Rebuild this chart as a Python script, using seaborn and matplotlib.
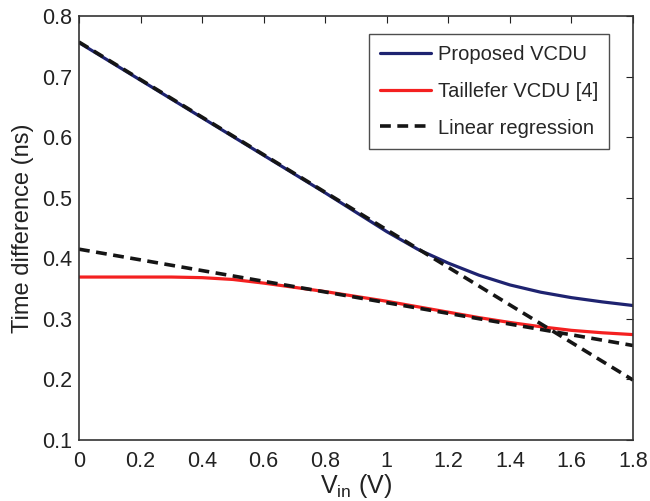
import numpy as np
import pandas as pd
import matplotlib
matplotlib.use("Agg")
import matplotlib.pyplot as plt
import seaborn as sns

vin = [0.0, 0.1, 0.2, 0.3, 0.4, 0.5, 0.6, 0.7, 0.8, 0.9, 1.0, 1.1, 1.2, 1.3, 1.4, 1.5, 1.6, 1.7, 1.8]
proposed = [0.756, 0.725, 0.694, 0.663, 0.632, 0.601, 0.570, 0.539, 0.508, 0.476, 0.444, 0.415,
            0.392, 0.372, 0.356, 0.344, 0.335, 0.328, 0.322]
taillefer = [0.369, 0.369, 0.369, 0.369, 0.368, 0.365, 0.359, 0.352, 0.345, 0.337, 0.329, 0.320,
             0.311, 0.302, 0.294, 0.287, 0.281, 0.277, 0.274]
reg_x = [0.0, 1.8]
reg_proposed = [0.757, 0.199]
reg_taillefer = [0.415, 0.256]

sns.set_theme(style="white")
plt.rcParams['font.family'] = ['Liberation Sans', 'DejaVu Sans']
plt.rcParams['mathtext.fontset'] = 'custom'
plt.rcParams['mathtext.rm'] = 'Liberation Sans'
plt.rcParams['mathtext.it'] = 'Liberation Sans'

fig = plt.figure(figsize=(6.5, 5.01), dpi=100)
ax = fig.add_axes([0.1215, 0.1218, 0.8523, 0.8463])

df_p = pd.DataFrame({"x": vin, "y": proposed})
df_t = pd.DataFrame({"x": vin, "y": taillefer})
df_r1 = pd.DataFrame({"x": reg_x, "y": reg_proposed})
df_r2 = pd.DataFrame({"x": reg_x, "y": reg_taillefer})

sns.lineplot(data=df_p, x="x", y="y", ax=ax, color="#1e2370", lw=2.3, label="Proposed VCDU")
sns.lineplot(data=df_t, x="x", y="y", ax=ax, color="#f42020", lw=2.3, label="Taillefer VCDU [4]")
sns.lineplot(data=df_r1, x="x", y="y", ax=ax, color="#151515", lw=2.6, label="Linear regression")
sns.lineplot(data=df_r2, x="x", y="y", ax=ax, color="#151515", lw=2.6)
for ln in ax.lines[2:]:
    ln.set_dashes((3.0, 1.8))

ax.set_xlim(0, 1.8)
ax.set_ylim(0.1, 0.8)
ax.set_xticks([0, 0.2, 0.4, 0.6, 0.8, 1.0, 1.2, 1.4, 1.6, 1.8])
ax.set_xticklabels(["0", "0.2", "0.4", "0.6", "0.8", "1", "1.2", "1.4", "1.6", "1.8"])
ax.set_yticks([0.1, 0.2, 0.3, 0.4, 0.5, 0.6, 0.7, 0.8])
ax.set_yticklabels(["0.1", "0.2", "0.3", "0.4", "0.5", "0.6", "0.7", "0.8"])
ax.tick_params(direction="in", length=5, width=0.8, top=True, right=True,
               labelsize=15.5, colors="#222222")
ax.tick_params(axis="x", pad=8)
ax.tick_params(axis="y", pad=5)
for s in ax.spines.values():
    s.set_color("#333333")
    s.set_linewidth(1.2)
ax.set_xlabel(r"V$_{\mathrm{in}}$ (V)", fontsize=18, color="#222222", labelpad=0)
ax.set_ylabel("Time difference (ns)", fontsize=17, color="#222222", labelpad=6)

leg = ax.legend(loc="upper right", bbox_to_anchor=(0.9567, 0.9575), fontsize=14.5,
                frameon=True, fancybox=False, edgecolor="#222222", handlelength=2.5,
                handletextpad=0.35, borderpad=0.55, labelspacing=0.88, borderaxespad=0)
leg.get_frame().set_linewidth(1.0)

fig.savefig("out.png", dpi=100)
